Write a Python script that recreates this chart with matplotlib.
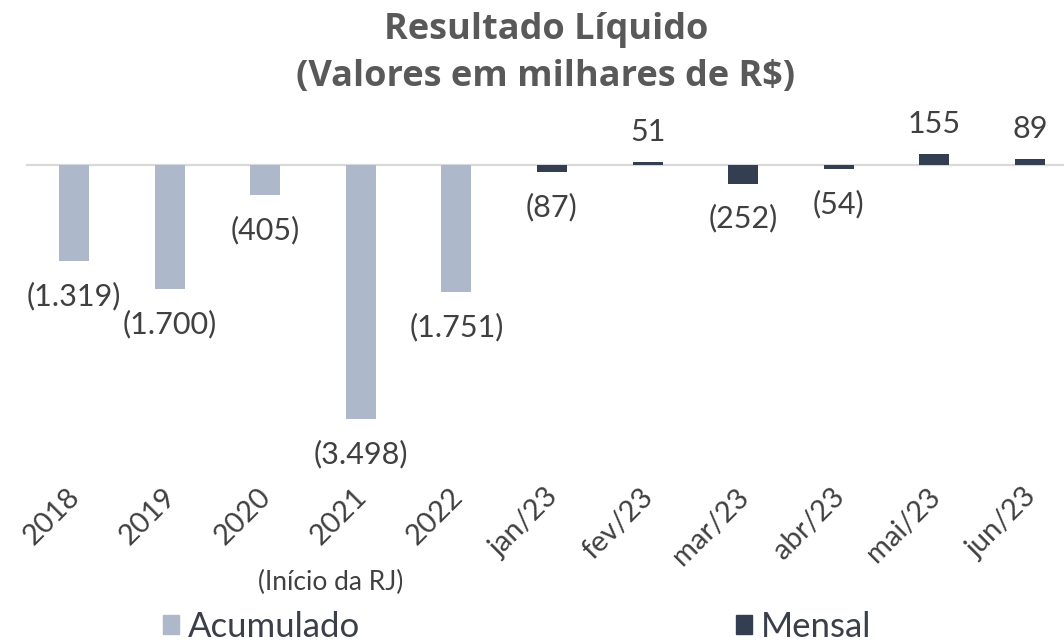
import matplotlib.pyplot as plt
from matplotlib.patches import Patch

# Dados (milhares de R$)
categorias = ['2018', '2019', '2020', '2021', '2022',
              'jan/23', 'fev/23', 'mar/23', 'abr/23', 'mai/23', 'jun/23']
acumulado = [-1319, -1700, -405, -3498, -1751]
mensal = [-87, 51, -252, -54, 155, 89]

cor_acum = '#ADB9CA'
cor_mensal = '#333F50'
cor_texto = '#404040'

plt.rcParams['font.family'] = ['Lato', 'DejaVu Sans']


def fmt(v):
    s = f'{abs(v):,}'.replace(',', '.')
    return f'({s})' if v < 0 else s


fig = plt.figure(figsize=(10.64, 6.42), dpi=100)
ax = fig.add_axes([0.0246, 0.3241, 0.9757, 0.4863])

x_acum = list(range(len(acumulado)))
x_mensal = list(range(len(acumulado), len(categorias)))

ax.bar(x_acum, acumulado, width=0.314, color=cor_acum, zorder=2)
ax.bar(x_mensal, mensal, width=0.314, color=cor_mensal, zorder=2)
ax.axhline(0, color='#D9D9D9', linewidth=1.6, zorder=1)

ax.set_xlim(-0.5, 10.36)
ax.set_ylim(-3700, 600)
ax.axis('off')

# rótulos de valores
for xs, vals in ((x_acum, acumulado), (x_mensal, mensal)):
    for x, v in zip(xs, vals):
        off = -35 if v < 0 else 30
        ax.annotate(fmt(v), xy=(x, v), xytext=(0, off), textcoords='offset pixels',
                    ha='center', va='center', fontsize=22, color=cor_texto)

# rótulos do eixo x
for i, cat in enumerate(categorias):
    ax.annotate(cat, xy=(i, 0), xycoords=('data', 'axes fraction'),
                xytext=(2, -59), textcoords='offset pixels',
                rotation=45, rotation_mode='anchor', ha='right', va='center',
                fontsize=21, color=cor_texto)

fig.text(0.311, 0.092, '(Início da RJ)', ha='center', va='center',
         fontsize=19, color=cor_texto)

fig.text(0.513, 0.953, 'Resultado Líquido', ha='center', va='center',
         fontsize=26, fontweight='bold', color='#595959', family='Open Sans')
fig.text(0.513, 0.880, '(Valores em milhares de R$)', ha='center', va='center',
         fontsize=26, fontweight='bold', color='#595959', family='Open Sans')

handles = [Patch(color=cor_acum), Patch(color=cor_mensal)]
fig.legend(handles, ['Acumulado', 'Mensal'], ncol=2, loc='center',
           bbox_to_anchor=(0.486, 0.024), frameon=False, fontsize=25,
           handlelength=0.45, handleheight=0.45, handletextpad=0.25,
           columnspacing=10.85, labelcolor='#3a3f4a', borderpad=0)

fig.savefig('out.png', dpi=100)
